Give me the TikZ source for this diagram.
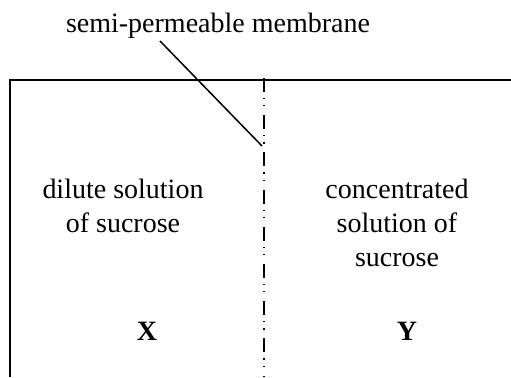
\documentclass[tikz,border=0pt]{standalone}
\usepackage{fontspec}
\setmainfont{Liberation Serif}
\usepackage{tikz}
\usetikzlibrary{positioning, calc}
\tikzstyle{label} = [inner sep=0pt, anchor=base, align=center, font=\fontsize{14}{16.8}\selectfont]
\tikzstyle{tag} = [inner sep=0pt, anchor=base, font=\fontsize{14}{16.8}\selectfont\bfseries]
\tikzstyle{wall} = [line width=1pt]
\tikzstyle{membrane} = [line width=1pt, dash pattern=on 7pt off 3pt on 0.6pt off 3pt on 0.6pt off 4.4pt]
\tikzstyle{leader} = [line width=0.75pt]

\begin{document}
\begin{tikzpicture}[x=0.5pt, y=-0.5pt]
        \useasboundingbox (0,0) rectangle (511,377);

        % container walls
        \coordinate (botleft) at (10,377);
        \coordinate (topright) at (511,80);
        \draw [wall] (botleft) |- (topright);

        % membrane
        \coordinate (memtop) at (264,78);
        \coordinate (membot) at (264,377);
        \draw [membrane] (memtop) -- (membot);

        % labels
        \node (title) [label] at (218,32) {semi-permeable membrane};
        \node (dilute) [label] at (123,232) {dilute solution\\of sucrose};
        \node (conc) [label] at (397,266) {concentrated\\solution of\\sucrose};
        \node (x) [tag] at (147,340) {X};
        \node (y) [tag] at (407,340) {Y};

        % pointer to membrane
        \coordinate (from) at (160,41);
        \coordinate (tip) at (262,146);
        \draw [leader] (from) -- (tip);
    \end{tikzpicture}
\end{document}
